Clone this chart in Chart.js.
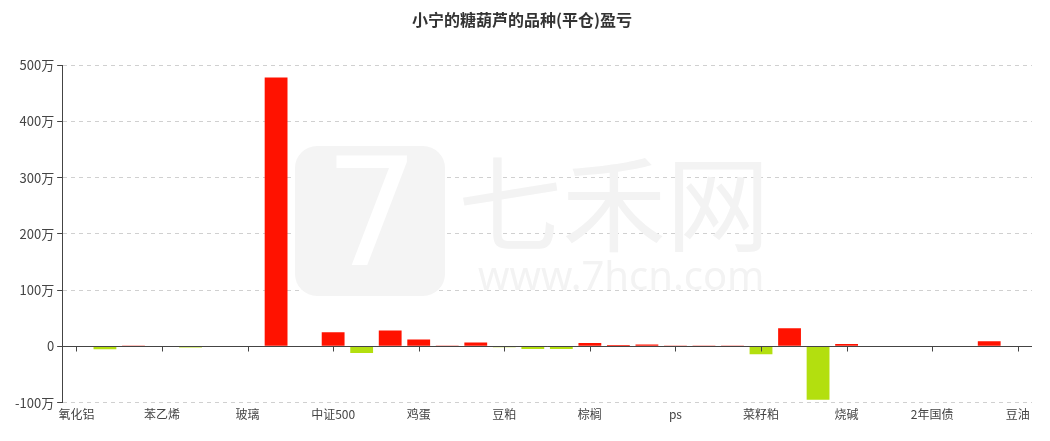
<!DOCTYPE html>
<html>
<head>
<meta charset="utf-8">
<script src="https://cdn.jsdelivr.net/npm/chart.js@4.4.1/dist/chart.umd.min.js"></script>
<style>
  html, body { margin: 0; padding: 0; background: #fff; }
  #wrap { width: 1050px; height: 441px; }
</style>
</head>
<body>
<div id="wrap"><canvas id="grafico"></canvas></div>
<script>
// categorias (solo se rotula una de cada tres)
const categorias = [
  "氧化铝", "甲醇", "PTA", "苯乙烯", "纯碱", "尿素", "玻璃", "沪镍", "白银",
  "中证500", "黄金", "橡胶", "鸡蛋", "焦炭", "铁矿石", "豆粕", "螺纹钢", "沪铜",
  "棕榈", "豆一", "玉米", "ps", "棉花", "白糖", "菜籽粕", "菜油", "沥青",
  "烧碱", "燃油", "PVC", "2年国债", "生猪", "苹果", "豆油"
];
// 盈亏, en 万
const valoresWan = [
  0, -5, 0.8, 0, -2, -0.5, 0, 478, 0,
  25, -12, 28, 12, 1.5, 7, -1.5, -4.5, -4.5,
  6, 2.5, 3.5, 0.3, 0.8, 0.5, -14, 32, -95,
  4, 0, 1, 0, 0, 9, 0
];
const ticksY = [-1000000, 0, 1000000, 2000000, 3000000, 4000000, 5000000];
const titulo = "小宁的糖葫芦的品种(平仓)盈亏";

const valores = valoresWan.map(v => v * 10000);
const rojo = "#ff1200";
const verde = "#b3df0f";
const fuente = "'Microsoft YaHei', 'Noto Sans CJK SC', sans-serif";

const marcaAgua = {
  id: "marcaAgua",
  beforeDatasetsDraw(chart) {
    const c = chart.ctx;
    c.save();
    // logo 7
    c.fillStyle = "#f4f4f4";
    c.beginPath();
    c.roundRect(295, 146, 150, 150, 22);
    c.fill();
    c.fillStyle = "#ffffff";
    c.font = "150px 'DejaVu Sans', sans-serif";
    c.textAlign = "center";
    c.textBaseline = "middle";
    c.fillText("7", 372, 226);
    c.fillStyle = "#f3f3f3";
    c.font = "104px 'Noto Sans CJK SC', sans-serif";
    c.textAlign = "left";
    c.textBaseline = "alphabetic";
    c.fillText("七禾网", 458, 244);
    c.font = "40px 'Noto Sans', sans-serif";
    c.fillText("www.7hcn.com", 478, 290);
    c.restore();
  }
};

const ejeCero = {
  id: "ejeCero",
  afterDatasetsDraw(chart) {
    const c = chart.ctx;
    const x = chart.scales.x, y = chart.scales.y;
    const y0 = Math.round(y.getPixelForValue(0)) + 0.5;
    c.save();
    c.strokeStyle = "#444";
    c.lineWidth = 1;
    c.beginPath();
    c.moveTo(x.left, y0);
    c.lineTo(x.right, y0);
    for (let i = 0; i < categorias.length; i += 3) {
      const px = Math.round(x.getPixelForValue(i)) + 0.5;
      c.moveTo(px, y0);
      c.lineTo(px, y0 + 5);
    }
    c.stroke();
    c.restore();
  }
};

new Chart(document.getElementById("grafico"), {
  type: "bar",
  data: {
    labels: categorias,
    datasets: [{
      data: valores,
      backgroundColor: valores.map(v => v >= 0 ? rojo : verde),
      barPercentage: 0.8,
      categoryPercentage: 1
    }]
  },
  options: {
    responsive: true,
    maintainAspectRatio: false,
    animation: false,
    layout: { padding: { left: 12, right: 18, top: 6, bottom: 14 } },
    plugins: {
      legend: { display: false },
      tooltip: { enabled: false },
      title: {
        display: true,
        text: titulo,
        color: "#333",
        font: { family: fuente, size: 16, weight: "bold" },
        padding: { top: 4, bottom: 36 }
      }
    },
    scales: {
      x: {
        grid: { display: false, drawTicks: false, tickLength: 0 },
        border: { display: false },
        ticks: {
          autoSkip: false,
          maxRotation: 0,
          padding: 5,
          color: "#444",
          font: { family: fuente, size: 12 },
          callback: (v, i) => i % 3 === 0 ? categorias[i] : null
        }
      },
      y: {
        min: ticksY[0],
        max: ticksY[ticksY.length - 1],
        afterBuildTicks: s => { s.ticks = ticksY.map(v => ({ value: v })); },
        grid: {
          color: ctx => ctx.tick && ctx.tick.value === 0 ? "rgba(0,0,0,0)" : "#d0d0d0",
          tickColor: "#444",
          tickLength: 5,
          tickBorderDash: []
        },
        border: { display: true, color: "#444", dash: [4, 4] },
        ticks: {
          padding: 3,
          color: "#444",
          font: { family: fuente, size: 13 },
          callback: v => v === 0 ? "0" : (v / 10000) + "万"
        }
      }
    }
  },
  plugins: [marcaAgua, ejeCero]
});
</script>
</body>
</html>
